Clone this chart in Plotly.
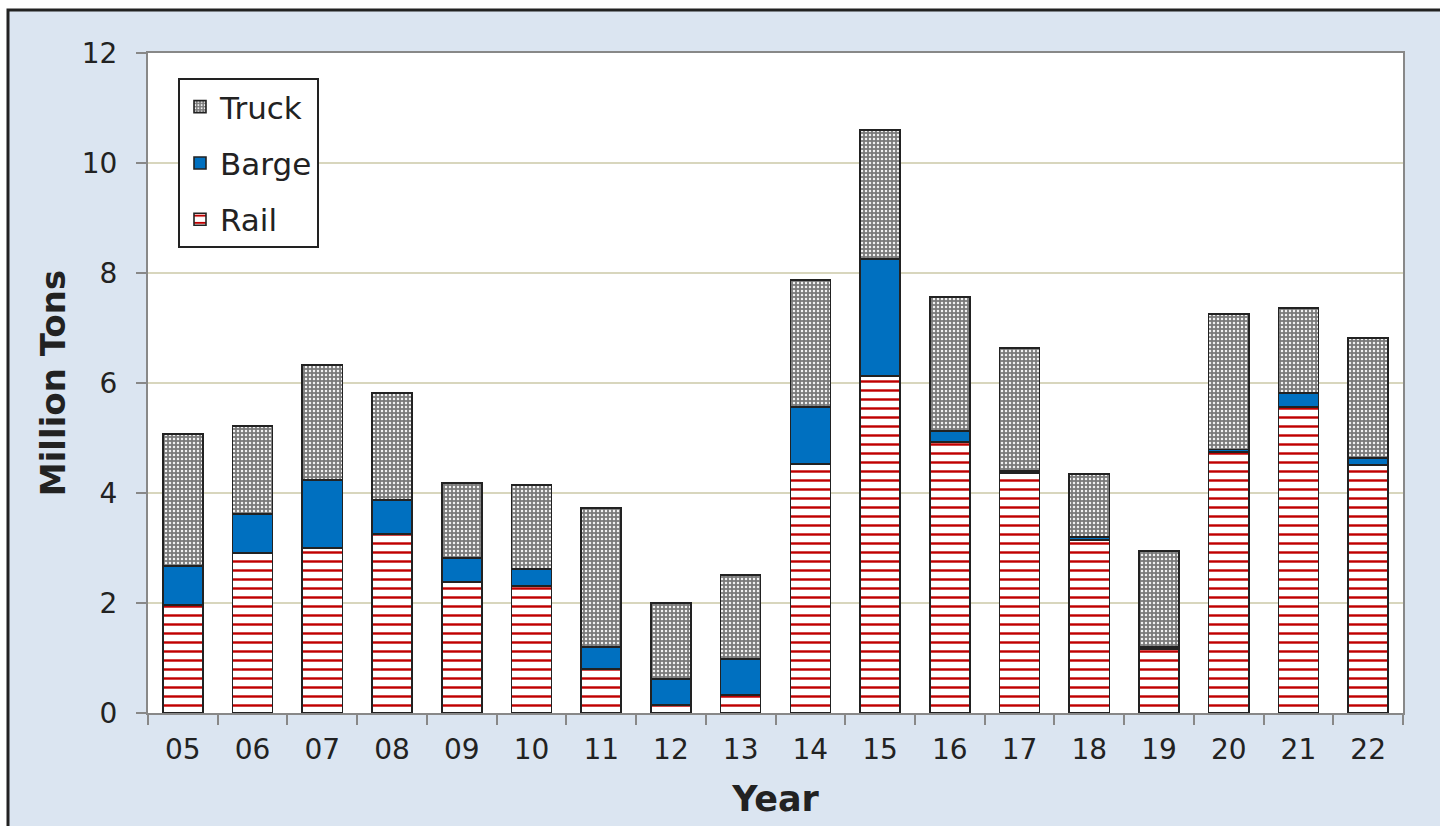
import plotly.graph_objects as go

years = ["05", "06", "07", "08", "09", "10", "11", "12", "13",
         "14", "15", "16", "17", "18", "19", "20", "21", "22"]

# Million tons by mode
rail = [1.96, 2.91, 3.00, 3.25, 2.38, 2.31, 0.80, 0.15, 0.33,
        4.53, 6.13, 4.93, 4.36, 3.15, 1.16, 4.75, 5.56, 4.51]
barge = [0.71, 0.71, 1.24, 0.62, 0.44, 0.31, 0.40, 0.47, 0.65,
         1.03, 2.12, 0.20, 0.04, 0.05, 0.04, 0.04, 0.26, 0.13]
truck = [2.40, 1.60, 2.09, 1.95, 1.36, 1.53, 2.53, 1.38, 1.53,
         2.31, 2.35, 2.43, 2.24, 1.15, 1.75, 2.46, 1.54, 2.18]

y_ticks = [0, 2, 4, 6, 8, 10, 12]

FONT = "DejaVu Sans, Verdana, sans-serif"
EDGE = dict(color="#222222", width=1.6)

W, H = 1440, 826
L, R, T, B = 148, 37, 53, 113
pw, ph = W - L - R, H - T - B


def px_x(x):
    return (x - L) / pw


def px_y(y):
    return (H - B - y) / ph


fig = go.Figure()
fig.add_trace(go.Bar(
    x=years, y=rail, name="Rail", legendgroup="rail", legendrank=3,
    marker=dict(color="white", line=EDGE,
                pattern=dict(shape="-", fgcolor="#c00000", bgcolor="white",
                             size=9, solidity=0.27, fillmode="replace")),
))
fig.add_trace(go.Bar(
    x=years, y=barge, name="Barge", legendgroup="barge", legendrank=2,
    marker=dict(color="#0070c0", line=EDGE),
))
fig.add_trace(go.Bar(
    x=years, y=truck, name="Truck", legendgroup="truck", legendrank=1,
    marker=dict(color="#808080", line=EDGE,
                pattern=dict(shape=".", fgcolor="#f2f2f2", bgcolor="#7a7a7a",
                             size=4, solidity=0.3, fillmode="replace")),
))

shapes = [
    # outer panel with dark frame
    dict(type="rect", xref="paper", yref="paper", layer="below",
         x0=px_x(8), x1=px_x(1460), y0=px_y(850), y1=px_y(10),
         fillcolor="#dbe5f1", line=dict(color="#222222", width=3)),
    # white plotting area
    dict(type="rect", xref="paper", yref="paper", layer="below",
         x0=0, x1=1, y0=0, y1=1, fillcolor="white", line=dict(width=0)),
]

fig.update_layout(
    width=W, height=H,
    margin=dict(l=L, r=R, t=T, b=B),
    barmode="stack", bargap=0.425,
    paper_bgcolor="white", plot_bgcolor="white",
    font=dict(family=FONT, color="#222222", size=28),
    shapes=shapes,
    showlegend=True,
    legend=dict(
        x=px_x(178), y=px_y(78), xanchor="left", yanchor="top",
        bgcolor="white", bordercolor="#222222", borderwidth=2,
        font=dict(size=31, family=FONT, color="#222222"),
        traceorder="grouped", tracegroupgap=13,
        itemwidth=30,
    ),
    xaxis=dict(
        type="category", tickson="boundaries", ticks="outside",
        ticklen=10, tickcolor="#888888", tickwidth=2,
        showline=True, linecolor="#888888", linewidth=2, mirror=True,
        tickfont=dict(size=28), ticklabelstandoff=10,
        title=dict(text="<b>Year</b>", font=dict(size=35), standoff=22),
    ),
    yaxis=dict(
        range=[0, 12], tickvals=y_ticks, ticks="outside",
        ticklen=10, tickcolor="#888888", tickwidth=2,
        showline=True, linecolor="#888888", linewidth=2, mirror=True,
        showgrid=True, gridcolor="#d8d6bd", gridwidth=1.5,
        zeroline=False, tickfont=dict(size=28), ticklabelstandoff=13,
        title=dict(text="<b>Million Tons</b>", font=dict(size=34), standoff=6),
    ),
)

fig.write_html("out.html")
